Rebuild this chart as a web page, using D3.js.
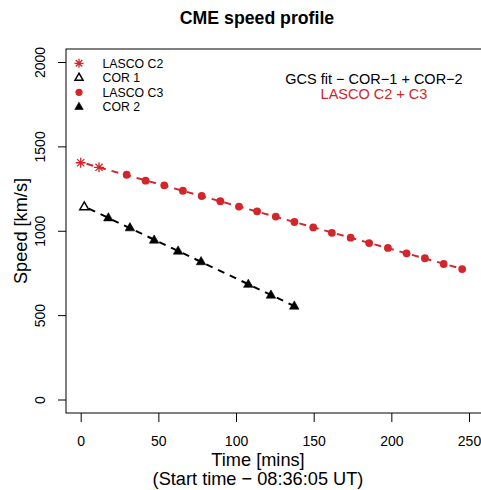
<!DOCTYPE html>
<html>
<head>
<meta charset="utf-8">
<script src="https://cdn.jsdelivr.net/npm/d3@7"></script>
<style>
  html, body { margin: 0; padding: 0; background: #fff; }
  text { font-family: "Liberation Sans", Arial, Helvetica, sans-serif; }
</style>
</head>
<body>
<svg id="chart" width="481" height="490"></svg>
<script>
// ---- Data ----
const lascoC2Time  = [0, 11.8];
const lascoC2Speed = [1403, 1376];

const cor1Time  = [2.3];
const cor1Speed = [1142];

const lascoC3Time  = [29.6, 41.8, 53.8, 65.8, 77.9, 89.9, 101.9, 113.6, 125.6, 137.6,
                      149.7, 161.7, 173.8, 185.7, 197.8, 209.8, 221.6, 233.7, 245.6];
const lascoC3Speed = [1332, 1297, 1269, 1237, 1206, 1175, 1143, 1115, 1084, 1052,
                      1020, 988, 959, 927, 898, 866, 837, 803, 773];

const cor2Time  = [17.8, 31.7, 47.3, 62.7, 77.5, 107.9, 122.5, 137.5];
const cor2Speed = [1077, 1018, 945, 880, 817, 683, 619, 554];

const xTicks = [0, 50, 100, 150, 200, 250];
const yTicks = [0, 500, 1000, 1500, 2000];

const legendLabels = ["LASCO C2", "COR 1", "LASCO C3", "COR 2"];
const titleText = "CME speed profile";
const xLabel1 = "Time [mins]";
const xLabel2 = "(Start time \u2212 08:36:05 UT)";
const yLabel = "Speed [km/s]";
const note1 = "GCS fit \u2212 COR\u22121 + COR\u22122";
const note2 = "LASCO C2 + C3";

// ---- Layout ----
const RED = "#d2262b";
const svg = d3.select("#chart");
const boxL = 66, boxT = 49, boxB = 413, boxR = 500;

const x = d3.scaleLinear().domain([0, 250]).range([80.7, 469]);
const y = d3.scaleLinear().domain([0, 2000]).range([399.5, 62]);

// frame box
svg.append("rect")
  .attr("x", boxL).attr("y", boxT)
  .attr("width", boxR - boxL).attr("height", boxB - boxT)
  .attr("fill", "none").attr("stroke", "#000").attr("stroke-width", 1);

// axes
const xAxis = svg.append("g").attr("transform", `translate(0,${boxB})`)
  .call(d3.axisBottom(x).tickValues(xTicks).tickSize(9).tickPadding(14).tickFormat(d3.format("d")));
xAxis.select(".domain").remove();
xAxis.selectAll("text").attr("font-size", 14).attr("fill", "#000")
  .attr("font-family", "Liberation Sans, Arial, sans-serif");

const yAxis = svg.append("g").attr("transform", `translate(${boxL},0)`)
  .call(d3.axisLeft(y).tickValues(yTicks).tickSize(8).tickFormat(d3.format("d")));
yAxis.select(".domain").remove();
yAxis.selectAll("text").remove();
yAxis.selectAll(".tick").append("text")
  .attr("transform", "translate(-21,0) rotate(-90)")
  .attr("text-anchor", "middle")
  .attr("font-size", 14).attr("fill", "#000")
  .attr("font-family", "Liberation Sans, Arial, sans-serif")
  .text(d => d);

// titles
svg.append("text").attr("x", 257).attr("y", 24).attr("text-anchor", "middle")
  .attr("font-size", 17.7).attr("font-weight", "bold").text(titleText);
svg.append("text").attr("x", 258).attr("y", 465.5).attr("text-anchor", "middle")
  .attr("font-size", 18.2).text(xLabel1);
svg.append("text").attr("x", 258).attr("y", 484.5).attr("text-anchor", "middle")
  .attr("font-size", 18.2).text(xLabel2);
svg.append("text").attr("transform", "translate(27,231) rotate(-90)")
  .attr("text-anchor", "middle").attr("font-size", 18.2).text(yLabel);

// annotation
svg.append("text").attr("x", 374).attr("y", 84).attr("text-anchor", "middle")
  .attr("font-size", 14.5).attr("fill", "#000").text(note1);
svg.append("text").attr("x", 374).attr("y", 99).attr("text-anchor", "middle")
  .attr("font-size", 14.5).attr("fill", RED).text(note2);

// ---- Linear fits (computed from data) ----
function fit(ts, vs) {
  const n = ts.length;
  const mt = d3.mean(ts), mv = d3.mean(vs);
  let sxy = 0, sxx = 0;
  for (let i = 0; i < n; i++) { sxy += (ts[i]-mt)*(vs[i]-mv); sxx += (ts[i]-mt)**2; }
  const b = sxy / sxx, a = mv - b * mt;
  return t => a + b * t;
}
const redT = lascoC2Time.concat(lascoC3Time), redV = lascoC2Speed.concat(lascoC3Speed);
const blkT = cor1Time.concat(cor2Time), blkV = cor1Speed.concat(cor2Speed);
const fRed = fit(redT, redV), fBlk = fit(blkT, blkV);
const line = d3.line().x(d => x(d[0])).y(d => y(d[1]));
const redExt = d3.extent(redT), blkExt = d3.extent(blkT);

svg.append("path")
  .attr("d", line(redExt.map(t => [t, fRed(t)])))
  .attr("fill", "none").attr("stroke", RED).attr("stroke-width", 2)
  .attr("stroke-dasharray", "7,6").attr("stroke-dashoffset", -6);
svg.append("path")
  .attr("d", line(blkExt.map(t => [t, fBlk(t)])))
  .attr("fill", "none").attr("stroke", "#000").attr("stroke-width", 2)
  .attr("stroke-dasharray", "7,6").attr("stroke-dashoffset", -5);

// ---- Symbols ----
function star(g, cx, cy, s, col) {
  const r = s, d = s * 0.72;
  const p = `M${cx-r},${cy}L${cx+r},${cy}M${cx},${cy-r}L${cx},${cy+r}` +
            `M${cx-d},${cy-d}L${cx+d},${cy+d}M${cx-d},${cy+d}L${cx+d},${cy-d}`;
  g.append("path").attr("d", p).attr("stroke", col).attr("stroke-width", 1.3).attr("fill", "none");
}
function tri(g, cx, cy, s, filled) {
  const h = s * 0.866;
  const p = `M${cx},${cy - h*0.62}L${cx + s/2},${cy + h*0.38}L${cx - s/2},${cy + h*0.38}Z`;
  g.append("path").attr("d", p)
    .attr("fill", filled ? "#000" : "none")
    .attr("stroke", "#000").attr("stroke-width", filled ? 0.6 : 1.5);
}

const pts = svg.append("g");
lascoC2Time.forEach((t, i) => star(pts, x(t), y(lascoC2Speed[i]), 5, RED));
cor1Time.forEach((t, i) => tri(pts, x(t), y(cor1Speed[i]), 9, false));
lascoC3Time.forEach((t, i) =>
  pts.append("circle").attr("cx", x(t)).attr("cy", y(lascoC3Speed[i])).attr("r", 3.9).attr("fill", RED));
cor2Time.forEach((t, i) => tri(pts, x(t), y(cor2Speed[i]), 9.5, true));

// ---- Legend ----
const lg = svg.append("g");
const rowsY = [63.3, 77.5, 92.3, 106.7];
legendLabels.forEach((lab, i) => {
  const cy = rowsY[i], cx = 79;
  if (i === 0) star(lg, cx, cy, 4.5, RED);
  if (i === 1) tri(lg, cx, cy, 8, false);
  if (i === 2) lg.append("circle").attr("cx", cx).attr("cy", cy).attr("r", 3.6).attr("fill", RED);
  if (i === 3) tri(lg, cx, cy, 8.5, true);
  lg.append("text").attr("x", 102.5).attr("y", cy + 4.3).attr("font-size", 12.3).text(lab);
});
</script>
</body>
</html>
